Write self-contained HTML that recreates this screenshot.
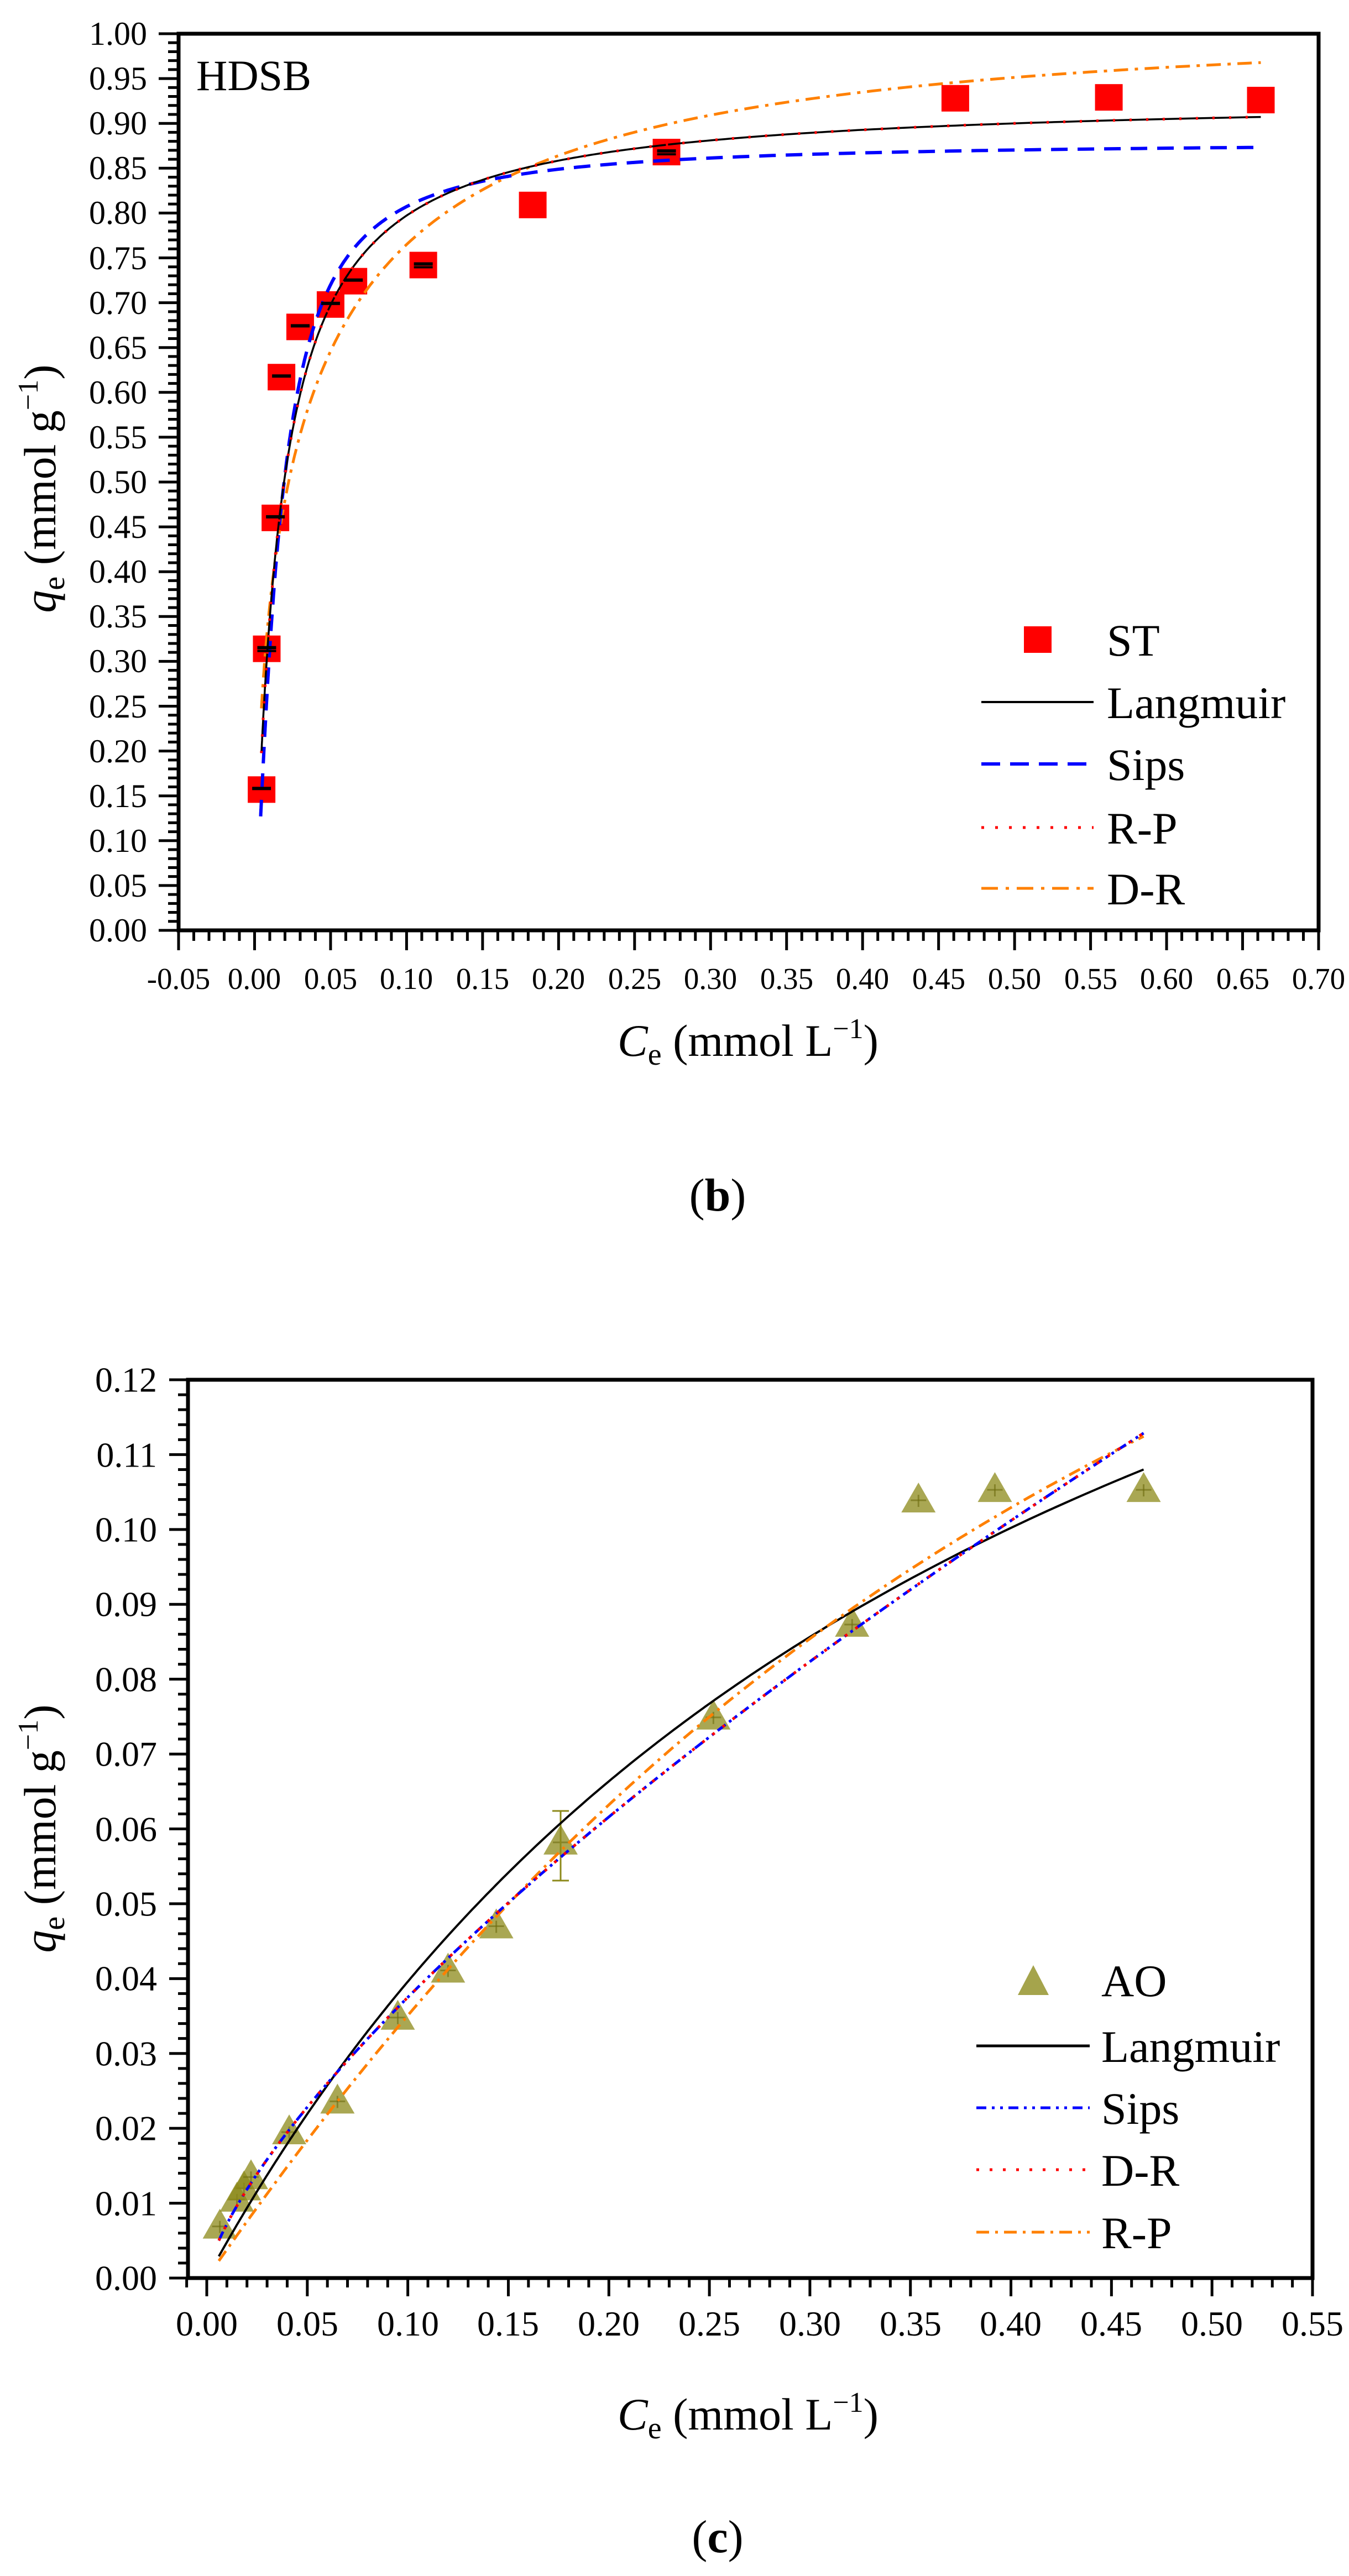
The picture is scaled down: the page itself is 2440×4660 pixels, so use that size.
<!DOCTYPE html>
<html><head><meta charset="utf-8"><style>
html,body{margin:0;padding:0;background:#fff;}
svg{display:block;}
text{font-family:"Liberation Serif",serif;fill:#000;}
</style></head><body>
<svg id="s" width="2440" height="4660" viewBox="0 0 2440 4660" xmlns="http://www.w3.org/2000/svg">
<rect width="2440" height="4660" fill="#fff"/>
<g id="g"></g>
<g font-size="60" text-anchor="end" dominant-baseline="central">
<text x="266" y="1683">0.00</text><text x="266" y="1602">0.05</text><text x="266" y="1521">0.10</text><text x="266" y="1440">0.15</text><text x="266" y="1359">0.20</text><text x="266" y="1278">0.25</text><text x="266" y="1196">0.30</text><text x="266" y="1115">0.35</text><text x="266" y="1034">0.40</text><text x="266" y="953">0.45</text><text x="266" y="872">0.50</text><text x="266" y="791">0.55</text><text x="266" y="710">0.60</text><text x="266" y="629">0.65</text><text x="266" y="548">0.70</text><text x="266" y="467">0.75</text><text x="266" y="385">0.80</text><text x="266" y="304">0.85</text><text x="266" y="223">0.90</text><text x="266" y="142">0.95</text><text x="266" y="61">1.00</text>
</g>
<g font-size="55" text-anchor="middle">
<text x="323" y="1789">-0.05</text><text x="460" y="1789">0.00</text><text x="598" y="1789">0.05</text><text x="735" y="1789">0.10</text><text x="873" y="1789">0.15</text><text x="1010" y="1789">0.20</text><text x="1148" y="1789">0.25</text><text x="1285" y="1789">0.30</text><text x="1423" y="1789">0.35</text><text x="1560" y="1789">0.40</text><text x="1698" y="1789">0.45</text><text x="1835" y="1789">0.50</text><text x="1973" y="1789">0.55</text><text x="2110" y="1789">0.60</text><text x="2248" y="1789">0.65</text><text x="2385" y="1789">0.70</text>
</g>
<text x="355" y="163" font-size="78">HDSB</text>
<text x="1353" y="1910" font-size="82" text-anchor="middle"><tspan font-style="italic">C</tspan><tspan font-size="56" dy="16">e</tspan><tspan dy="-16"> (mmol L</tspan><tspan font-size="52" dy="-32">−1</tspan><tspan dy="32">)</tspan></text>
<text transform="translate(100,884) rotate(-90)" font-size="82" text-anchor="middle"><tspan font-style="italic">q</tspan><tspan font-size="56" dy="16">e</tspan><tspan dy="-16"> (mmol g</tspan><tspan font-size="52" dy="-32">−1</tspan><tspan dy="32">)</tspan></text>
<text x="1298" y="2190" font-size="84" text-anchor="middle">(<tspan font-weight="bold">b</tspan>)</text>
<g font-size="82">
<text x="2002" y="1186">ST</text><text x="2002" y="1299">Langmuir</text><text x="2002" y="1411">Sips</text><text x="2002" y="1526">R-P</text><text x="2002" y="1636">D-R</text>
</g>
<g font-size="64" text-anchor="end" dominant-baseline="central">
<text x="284" y="4121">0.00</text><text x="284" y="3986">0.01</text><text x="284" y="3850">0.02</text><text x="284" y="3715">0.03</text><text x="284" y="3579">0.04</text><text x="284" y="3444">0.05</text><text x="284" y="3309">0.06</text><text x="284" y="3173">0.07</text><text x="284" y="3038">0.08</text><text x="284" y="2902">0.09</text><text x="284" y="2767">0.10</text><text x="284" y="2632">0.11</text><text x="284" y="2496">0.12</text>
</g>
<g font-size="64" text-anchor="middle">
<text x="374" y="4225">0.00</text><text x="556" y="4225">0.05</text><text x="738" y="4225">0.10</text><text x="919" y="4225">0.15</text><text x="1101" y="4225">0.20</text><text x="1283" y="4225">0.25</text><text x="1465" y="4225">0.30</text><text x="1647" y="4225">0.35</text><text x="1828" y="4225">0.40</text><text x="2010" y="4225">0.45</text><text x="2192" y="4225">0.50</text><text x="2374" y="4225">0.55</text>
</g>
<text x="1353" y="4395" font-size="82" text-anchor="middle"><tspan font-style="italic">C</tspan><tspan font-size="56" dy="16">e</tspan><tspan dy="-16"> (mmol L</tspan><tspan font-size="52" dy="-32">−1</tspan><tspan dy="32">)</tspan></text>
<text transform="translate(100,3308) rotate(-90)" font-size="82" text-anchor="middle"><tspan font-style="italic">q</tspan><tspan font-size="56" dy="16">e</tspan><tspan dy="-16"> (mmol g</tspan><tspan font-size="52" dy="-32">−1</tspan><tspan dy="32">)</tspan></text>
<text x="1298" y="4617" font-size="84" text-anchor="middle">(<tspan font-weight="bold">c</tspan>)</text>
<g font-size="82">
<text x="1992" y="3611">AO</text><text x="1992" y="3730">Langmuir</text><text x="1992" y="3842">Sips</text><text x="1992" y="3954">D-R</text><text x="1992" y="4067">R-P</text>
</g>
</svg>
<script>
(function(){
var NS="http://www.w3.org/2000/svg",g=document.getElementById("g");
function el(t,a){var e=document.createElementNS(NS,t);for(var k in a)e.setAttribute(k,a[k]);g.appendChild(e);return e;}
function path(pts,a){var d="";pts.forEach(function(p,i){d+=(i?"L":"M")+p[0].toFixed(1)+" "+p[1].toFixed(1);});a.d=d;a.fill="none";return el("path",a);}
function curve(f,x0,x1,X,Y,a){var p=[];var n=400;for(var i=0;i<=n;i++){var t=i/n;var x=x0*Math.pow(x1/x0,t);p.push([X(x),Y(f(x))]);}return path(p,a);}
var L=323,R=2385,T=61,B=1683;
var X=function(x){return L+(x+0.05)/0.75*(R-L);},Y=function(y){return B-y*(B-T);};
for(var k=0;k<=100;k++){var y=B-k*(B-T)/100;var maj=k%5==0;el("line",{x1:L-(maj?36:19),x2:L,y1:y,y2:y,stroke:"#000","stroke-width":5});}
for(var k=0;k<=75;k++){var x=L+k*(R-L)/75;var maj=k%5==0;el("line",{x1:x,x2:x,y1:B,y2:B+(maj?36:19),stroke:"#000","stroke-width":5});}
el("rect",{x:L,y:T,width:R-L,height:B-T,fill:"none",stroke:"#000","stroke-width":7});
var pts=[[0.0046,0.157],[0.008,0.314],[0.0137,0.46],[0.0177,0.617],[0.030,0.673],[0.050,0.698],[0.065,0.724],[0.111,0.742],[0.183,0.809],[0.271,0.868],[0.461,0.928],[0.562,0.929],[0.662,0.926]];
pts.forEach(function(p,i){var cx=X(p[0]),cy=Y(p[1]);el("rect",{x:cx-25,y:cy-24,width:50,height:48,fill:"#ff0000"});});
var lang=function(c){return 0.93*60*c/(1+60*c);};
var sips=function(c){var v=Math.pow(63.6*c,1.3);return 0.88*v/(1+v);};
var dr=function(c){var l=Math.log(1+1/c);return 1.008*Math.exp(-0.048*l*l);};
curve(dr,0.0045,0.662,X,Y,{stroke:"#ff8000","stroke-width":5,"stroke-dasharray":"26 12 6 12"});
curve(sips,0.004,0.662,X,Y,{stroke:"#0000ff","stroke-width":6,"stroke-dasharray":"30 18"});
curve(lang,0.0045,0.662,X,Y,{stroke:"#000","stroke-width":3.5});
curve(lang,0.0045,0.662,X,Y,{stroke:"#ff0000","stroke-width":5,"stroke-dasharray":"4 26"});
pts.forEach(function(p,i){if(i>7&&i!=9)return;var cx=X(p[0]),cy=Y(p[1]);el("rect",{x:cx-17,y:cy-5,width:34,height:6,fill:"#000"});if(i==1||i==7||i==9)el("rect",{x:cx-17,y:cy+2,width:34,height:4,fill:"#000"});});
el("rect",{x:1852,y:1133,width:50,height:48,fill:"#ff0000"});
el("line",{x1:1775,x2:1978,y1:1270,y2:1270,stroke:"#000","stroke-width":4});
el("line",{x1:1775,x2:1978,y1:1382,y2:1382,stroke:"#0000ff","stroke-width":6,"stroke-dasharray":"34 18"});
el("line",{x1:1775,x2:1978,y1:1497,y2:1497,stroke:"#ff0000","stroke-width":5,"stroke-dasharray":"5 20"});
el("line",{x1:1775,x2:1978,y1:1607,y2:1607,stroke:"#ff8000","stroke-width":5,"stroke-dasharray":"30 14 6 14"});
var L2=340,R2=2374,T2=2496,B2=4121;
var X2=function(x){return 374+x*(R2-374)/0.55;},Y2=function(y){return B2-y/0.12*(B2-T2);};
for(var k=0;k<=60;k++){var y=B2-k*(B2-T2)/60;var maj=k%5==0;el("line",{x1:L2-(maj?34:18),x2:L2,y1:y,y2:y,stroke:"#000","stroke-width":5});}
for(var k=-1;k<=55;k++){var x=X2(k*0.01);var maj=k%5==0;el("line",{x1:x,x2:x,y1:B2,y2:B2+(maj?33:17),stroke:"#000","stroke-width":5});}
el("rect",{x:L2,y:T2,width:R2-L2,height:B2-T2,fill:"none",stroke:"#000","stroke-width":7});
var pts2=[[0.0065,0.0069],[0.015,0.0105],[0.0185,0.0120],[0.022,0.0135],[0.041,0.0195],[0.065,0.0236],[0.095,0.0348],[0.12,0.0411],[0.144,0.047],[0.176,0.0582],[0.252,0.0749],[0.321,0.0873],[0.354,0.1039],[0.392,0.1053],[0.466,0.1053]];
pts2.forEach(function(p){var cx=X2(p[0]),cy=Y2(p[1]);el("path",{d:"M"+(cx-31)+" "+(cy+22)+"L"+cx+" "+(cy-32)+"L"+(cx+31)+" "+(cy+22)+"Z",fill:"#8c891a","fill-opacity":0.75});el("line",{x1:cx,x2:cx,y1:cy-10,y2:cy+12,stroke:"#6e6c10","stroke-width":3,opacity:0.6});el("line",{x1:cx-14,x2:cx+14,y1:cy,y2:cy,stroke:"#6e6c10","stroke-width":3,opacity:0.6});});
var ex=X2(0.176);el("line",{x1:ex,x2:ex,y1:Y2(0.0624),y2:Y2(0.0531),stroke:"#8c891a","stroke-width":3});
el("line",{x1:ex-15,x2:ex+15,y1:Y2(0.0624),y2:Y2(0.0624),stroke:"#8c891a","stroke-width":3});
el("line",{x1:ex-15,x2:ex+15,y1:Y2(0.0531),y2:Y2(0.0531),stroke:"#8c891a","stroke-width":3});
var lang2=function(c){return 0.2046*2.4*c/(1+2.4*c);};
var pw=function(c){return 0.195*Math.pow(c,0.716);};
var rp=function(c){return 0.383*c/(1+1.475*Math.pow(c,1.206));};
curve(lang2,0.006,0.466,X2,Y2,{stroke:"#000","stroke-width":4});
curve(rp,0.006,0.466,X2,Y2,{stroke:"#ff8000","stroke-width":5,"stroke-dasharray":"22 10 5 10"});
curve(pw,0.006,0.466,X2,Y2,{stroke:"#0000ff","stroke-width":5,"stroke-dasharray":"18 8 5 8 5 8"});
curve(pw,0.006,0.466,X2,Y2,{stroke:"#ff0000","stroke-width":5,"stroke-dasharray":"5 18"});
el("path",{d:"M1841 3609L1869 3555L1897 3609Z",fill:"#a5a44c"});
el("line",{x1:1766,x2:1971,y1:3701,y2:3701,stroke:"#000","stroke-width":5});
el("line",{x1:1766,x2:1971,y1:3813,y2:3813,stroke:"#0000ff","stroke-width":5,"stroke-dasharray":"18 10 5 10 5 10"});
el("line",{x1:1766,x2:1971,y1:3925,y2:3925,stroke:"#ff0000","stroke-width":5,"stroke-dasharray":"5 19"});
el("line",{x1:1766,x2:1971,y1:4038,y2:4038,stroke:"#ff8000","stroke-width":5,"stroke-dasharray":"23 11 5 11"});
})();
</script>
</body></html>
